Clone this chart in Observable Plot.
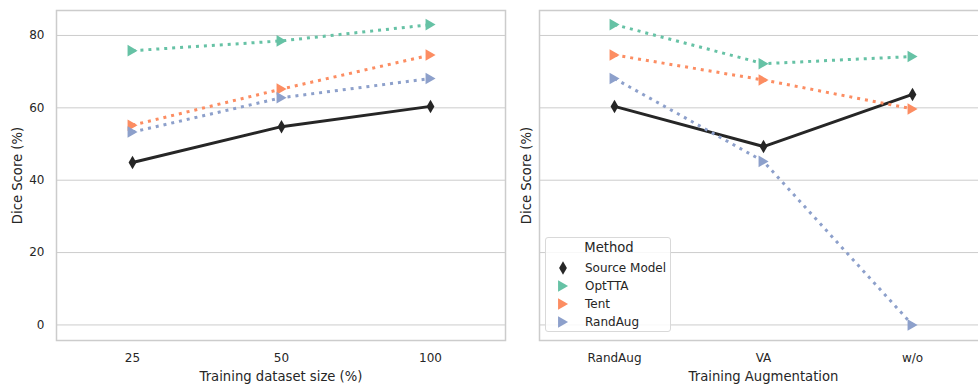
<!DOCTYPE html>
<html><head><meta charset="utf-8">
<script src="https://cdn.jsdelivr.net/npm/d3@7"></script>
<script src="https://cdn.jsdelivr.net/npm/@observablehq/plot@0.6"></script>
<style>
html,body{margin:0;padding:0;background:#fff;overflow:hidden}
#wrap{position:relative;width:978px;height:387px;overflow:hidden;font-family:"DejaVu Sans",sans-serif;color:#262626}
#left{position:absolute;left:0;top:0;width:520px;height:387px}
#right{position:absolute;left:520px;top:0;width:467px;height:387px}
#wrap svg{max-width:none !important}
#legend{position:absolute;left:545px;top:237px;width:126px;height:95px;border:1px solid #d9d9d9;border-radius:3px;background:rgba(255,255,255,0.85);box-sizing:border-box}
#legend .t{position:absolute;left:0;width:126px;top:2px;text-align:center;font-size:13.2px}
#legend .row{position:absolute;left:0;height:18px;width:126px}
#legend .row svg{position:absolute;left:8px;top:0}
#legend .row span{position:absolute;left:39px;top:1px;font-size:12px;line-height:16px}
</style></head><body>
<div id="wrap"><div id="left"></div><div id="right"></div><div id="legend"></div></div>
<script>
// ---- data ----
const methods = ["Source Model", "OptTTA", "Tent", "RandAug"];
const colors = ["#262626", "#66c2a5", "#fc8d62", "#8da0cb"];
const sizeCats = ["25", "50", "100"];
const augCats = ["RandAug", "VA", "w/o"];
const yTicks = [0, 20, 40, 60, 80];

const sourceBySize = [44.9, 54.8, 60.4];
const optttaBySize = [75.8, 78.5, 83.0];
const tentBySize = [55.2, 65.2, 74.6];
const randaugBySize = [53.3, 62.8, 68.1];

const sourceByAug = [60.4, 49.3, 63.7];
const optttaByAug = [83.0, 72.2, 74.2];
const tentByAug = [74.6, 67.7, 59.7];
const randaugByAug = [68.1, 45.2, 0.0];

const textColor = "#262626";
const gridColor = "#cccccc";
const triR = 4.3, diaR = 4.1;

function panel(cats, series, xLabel, width, marginLeft, marginRight, showTicks, yLabelDx) {
  const marks = [Plot.gridY(yTicks, {stroke: gridColor, strokeOpacity: 1, strokeWidth: 1})];
  methods.forEach((m, i) => {
    const d = cats.map((c, j) => ({method: m, cat: c, value: series[i][j]}));
    marks.push(Plot.line(d, {
      x: "cat", y: "value", stroke: colors[i], strokeWidth: 3,
      strokeDasharray: i === 0 ? null : "3,4.95", strokeLinecap: "butt", strokeLinejoin: "round"
    }));
    marks.push(Plot.dot(d, {
      x: "cat", y: "value", fill: colors[i], stroke: null,
      symbol: i === 0 ? "diamond" : "triangle", rotate: i === 0 ? 0 : 90,
      r: i === 0 ? diaR : triR, dx: i === 0 ? 0 : -1.6
    }));
  });
  marks.push(Plot.frame({stroke: gridColor, strokeWidth: 1.5}));
  marks.push(Plot.axisX(cats, {tickSize: 0, tickPadding: 13, fontSize: 12, label: null}));
  marks.push(Plot.axisY(yTicks, {tickSize: 0, tickPadding: 12, fontSize: 12, label: null,
    tickFormat: showTicks ? d => String(d) : () => ""}));
  marks.push(Plot.text([xLabel], {frameAnchor: "bottom", dy: 40, fontSize: 13.2, fill: textColor}));
  marks.push(Plot.text(["Dice Score (%)"], {frameAnchor: "left", dx: yLabelDx, rotate: -90,
    textAnchor: "middle", lineAnchor: "middle", fontSize: 13.2, fill: textColor}));
  return Plot.plot({
    width, height: 387,
    marginLeft, marginRight, marginTop: 10, marginBottom: 47,
    style: {fontFamily: "DejaVu Sans, sans-serif", color: textColor, background: "transparent", overflow: "visible"},
    x: {type: "point", domain: cats, padding: 0.5, axis: null},
    y: {domain: [-4.3, 86.9], axis: null},
    marks
  });
}

document.getElementById("left").appendChild(
  panel(sizeCats, [sourceBySize, optttaBySize, tentBySize, randaugBySize],
    "Training dataset size (%)", 520, 56, 15, true, -39));
document.getElementById("right").appendChild(
  panel(augCats, [sourceByAug, optttaByAug, tentByAug, randaugByAug],
    "Training Augmentation", 467, 19, 0, false, -13));

// ---- legend ----
const lg = document.getElementById("legend");
const t = document.createElement("div"); t.className = "t"; t.textContent = "Method"; lg.appendChild(t);
methods.forEach((m, i) => {
  const row = document.createElement("div"); row.className = "row";
  row.style.top = (21 + i * 18) + "px";
  const r = i === 0 ? diaR : triR;
  const path = d3.symbol(i === 0 ? d3.symbolDiamond : d3.symbolTriangle, Math.PI * r * r)();
  const tr = i === 0 ? "translate(9,9)" : "translate(7.4,9) rotate(90)";
  row.innerHTML = `<svg width="18" height="18"><path d="${path}" fill="${colors[i]}" transform="${tr}"/></svg><span>${m}</span>`;
  lg.appendChild(row);
});
</script>
</body></html>
